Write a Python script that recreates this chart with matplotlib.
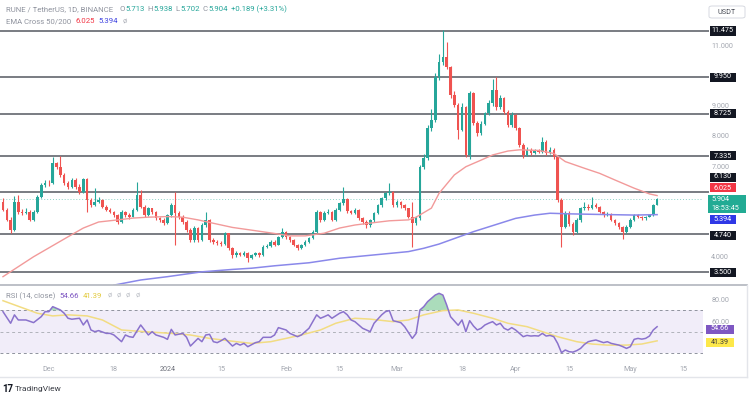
import numpy as np
import pandas as pd
import matplotlib
matplotlib.use("Agg")
import matplotlib.pyplot as plt
from matplotlib.patches import Rectangle, FancyBboxPatch
from matplotlib.lines import Line2D

plt.rcParams['font.family'] = ['Roboto', 'DejaVu Sans']

# ---------------- data ----------------
START = '2023-11-19'

opens = [
    5.80, 5.55, 5.22, 4.88, 5.82, 5.49, 5.44, 5.49, 5.22, 5.49,
    5.99, 6.38, 6.45, 6.43, 7.09, 6.98, 6.71, 6.43, 6.32, 6.54,
    6.32, 6.15, 6.56, 5.88, 5.71, 5.82, 5.88, 5.66, 5.55, 5.49,
    5.38, 5.16, 5.49, 5.38, 5.33, 5.55, 6.04, 5.66, 5.38, 5.60,
    5.49, 5.27, 5.22, 5.11, 5.38, 5.71, 5.45, 5.33, 5.16, 4.89,
    4.55, 4.94, 4.55, 5.05, 5.22, 4.55, 4.50, 4.45, 4.42, 4.77,
    4.28, 4.06, 4.12, 4.07, 4.12, 3.95, 4.06, 4.11, 4.06, 4.33,
    4.36, 4.50, 4.40, 4.66, 4.83, 4.66, 4.55, 4.40, 4.28, 4.39,
    4.50, 4.61, 4.83, 5.49, 5.22, 5.44, 5.49, 5.22, 5.55, 5.77,
    5.92, 5.50, 5.45, 5.55, 5.27, 5.16, 5.05, 5.20, 5.44, 5.71,
    5.93, 6.10, 6.15, 5.71, 5.80, 5.71, 5.60, 5.33, 5.11, 5.27,
    6.98, 7.26, 8.25, 8.53, 9.96, 10.46, 10.63, 10.29, 9.36, 9.03,
    8.20, 8.95, 7.37, 9.41, 8.42, 8.09, 8.40, 8.75, 9.08, 9.52,
    8.95, 9.25, 8.80, 8.36, 8.70, 8.25, 7.70, 7.37, 7.55, 7.45,
    7.52, 7.48, 7.80, 7.45, 7.55, 7.30, 5.88, 5.00, 5.44, 5.10,
    4.83, 5.22, 5.60, 5.66, 5.62, 5.72, 5.65, 5.49, 5.38, 5.42,
    5.22, 5.11, 4.99, 4.83, 4.99, 5.22, 5.38, 5.33, 5.27, 5.32,
    5.38, 5.713]

highs = [
    5.95, 5.62, 5.30, 6.00, 6.05, 5.58, 5.60, 5.55, 5.55, 6.05,
    6.45, 6.55, 6.55, 7.31, 7.15, 7.33, 6.78, 6.50, 6.60, 6.62,
    6.40, 6.62, 6.60, 5.95, 6.26, 5.98, 5.92, 5.70, 5.60, 5.52,
    5.42, 5.55, 5.52, 5.45, 5.62, 6.47, 6.20, 5.72, 5.66, 5.62,
    5.52, 5.32, 5.28, 5.42, 5.78, 6.15, 5.52, 5.38, 5.22, 4.95,
    5.02, 4.98, 5.12, 5.49, 5.25, 4.62, 4.55, 4.52, 4.82, 4.80,
    4.32, 4.18, 4.16, 4.18, 4.16, 4.10, 4.16, 4.15, 4.38, 4.42,
    4.55, 4.55, 4.70, 4.95, 4.86, 4.70, 4.58, 4.43, 4.43, 4.55,
    4.66, 4.88, 5.55, 5.52, 5.50, 5.58, 5.52, 5.60, 5.82, 6.30,
    5.95, 5.56, 5.60, 5.58, 5.30, 5.20, 5.25, 5.48, 5.75, 5.98,
    6.15, 6.43, 6.18, 5.88, 5.85, 5.75, 5.62, 5.80, 5.35, 7.05,
    7.40, 8.35, 8.90, 10.10, 10.70, 11.50, 11.10, 10.30, 9.50, 9.10,
    9.10, 9.00, 9.50, 9.45, 8.50, 8.50, 8.80, 9.20, 9.90, 9.95,
    9.35, 9.28, 8.85, 8.78, 8.72, 8.30, 7.75, 7.62, 7.60, 7.58,
    7.56, 7.95, 7.85, 7.62, 7.60, 7.35, 5.95, 5.50, 5.50, 5.15,
    5.28, 5.65, 5.80, 5.75, 5.99, 5.78, 5.68, 5.52, 5.48, 5.45,
    5.26, 5.15, 5.02, 5.05, 5.28, 5.42, 5.42, 5.36, 5.36, 5.42,
    5.75, 5.938]

lows = [
    5.50, 5.18, 4.80, 4.85, 5.40, 5.38, 5.40, 5.18, 5.18, 5.45,
    5.95, 6.32, 6.35, 6.40, 6.90, 6.65, 6.38, 6.25, 6.28, 6.25,
    6.08, 6.12, 5.49, 5.65, 5.68, 5.78, 5.60, 5.50, 5.44, 5.33,
    5.10, 5.12, 5.32, 5.26, 5.30, 5.50, 5.60, 5.33, 5.35, 5.42,
    5.22, 5.15, 5.05, 5.08, 5.33, 4.40, 5.25, 5.10, 4.82, 4.48,
    4.50, 4.48, 4.52, 5.00, 4.50, 4.42, 4.38, 4.35, 4.38, 4.22,
    3.95, 4.00, 4.02, 4.04, 3.84, 3.92, 4.02, 4.00, 4.03, 4.28,
    4.32, 4.35, 4.38, 4.62, 4.60, 4.50, 4.35, 4.22, 4.25, 4.36,
    4.45, 4.58, 4.80, 5.15, 5.18, 5.40, 5.18, 5.18, 5.50, 5.72,
    5.45, 5.40, 5.42, 5.22, 5.10, 4.95, 5.00, 5.15, 5.40, 5.65,
    5.88, 6.05, 5.65, 5.66, 5.62, 5.55, 5.28, 4.33, 5.05, 5.22,
    6.90, 7.20, 8.15, 8.45, 9.85, 10.35, 10.20, 9.25, 8.95, 7.90,
    8.15, 7.30, 7.25, 8.35, 8.00, 8.02, 8.35, 8.70, 9.00, 8.85,
    8.90, 8.72, 8.28, 8.30, 8.18, 7.62, 7.28, 7.32, 7.38, 7.40,
    7.42, 7.45, 7.38, 7.40, 7.22, 5.80, 4.33, 4.95, 5.02, 4.72,
    4.78, 5.15, 5.55, 5.55, 5.58, 5.60, 5.44, 5.32, 5.35, 5.18,
    5.05, 4.92, 4.60, 4.80, 4.95, 5.18, 5.28, 5.22, 5.22, 5.30,
    5.35, 5.702]

closes = [
    5.55, 5.22, 4.88, 5.82, 5.49, 5.44, 5.49, 5.22, 5.49, 5.99,
    6.38, 6.45, 6.43, 7.09, 6.98, 6.71, 6.43, 6.32, 6.54, 6.32,
    6.15, 6.56, 5.88, 5.71, 5.82, 5.88, 5.66, 5.55, 5.49, 5.38,
    5.16, 5.49, 5.38, 5.33, 5.55, 6.04, 5.66, 5.38, 5.60, 5.49,
    5.27, 5.22, 5.11, 5.38, 5.71, 5.45, 5.33, 5.16, 4.89, 4.55,
    4.94, 4.55, 5.05, 5.22, 4.55, 4.50, 4.45, 4.42, 4.77, 4.28,
    4.06, 4.12, 4.07, 4.12, 3.95, 4.06, 4.11, 4.06, 4.33, 4.36,
    4.50, 4.40, 4.66, 4.83, 4.66, 4.55, 4.40, 4.28, 4.39, 4.50,
    4.61, 4.83, 5.49, 5.22, 5.44, 5.49, 5.22, 5.55, 5.77, 5.92,
    5.50, 5.45, 5.55, 5.27, 5.16, 5.05, 5.20, 5.44, 5.71, 5.93,
    6.10, 6.15, 5.71, 5.80, 5.71, 5.60, 5.33, 5.11, 5.27, 6.98,
    7.26, 8.25, 8.53, 9.96, 10.46, 10.63, 10.29, 9.36, 9.03, 8.20,
    8.95, 7.37, 9.41, 8.42, 8.09, 8.40, 8.75, 9.08, 9.52, 8.95,
    9.25, 8.80, 8.36, 8.70, 8.25, 7.70, 7.37, 7.55, 7.45, 7.52,
    7.48, 7.80, 7.45, 7.55, 7.30, 5.88, 5.00, 5.44, 5.10, 4.83,
    5.22, 5.60, 5.66, 5.62, 5.72, 5.65, 5.49, 5.38, 5.42, 5.22,
    5.11, 4.99, 4.83, 4.99, 5.22, 5.38, 5.33, 5.27, 5.32, 5.38,
    5.713, 5.904]

# EMA 50 / EMA 200 (day offset from START, value)
ema50_days = [0, 8, 17, 21, 25, 30, 34, 38, 43, 47, 51, 56, 60, 65, 71, 75, 79, 84,
              88, 92, 97, 101, 106, 108, 112, 114, 118, 121, 125, 128, 132, 135,
              140, 144, 147, 152, 156, 160, 165, 169, 171]
ema50_vals = [3.34, 4.00, 4.66, 4.95, 5.15, 5.22, 5.28, 5.31, 5.33, 5.31, 5.22, 5.08,
              4.97, 4.88, 4.77, 4.69, 4.69, 4.78, 4.95, 5.05, 5.13, 5.19, 5.22, 5.31,
              5.61, 6.10, 6.71, 6.98, 7.20, 7.37, 7.50, 7.54, 7.52, 7.42, 7.15, 6.93,
              6.76, 6.54, 6.27, 6.08, 6.025]
ema200_days = [29, 36, 43, 52, 60, 65, 71, 80, 88, 97, 106, 110, 114, 123, 130, 134,
               139, 143, 148, 156, 165, 171]
ema200_vals = [3.06, 3.23, 3.34, 3.50, 3.58, 3.62, 3.70, 3.80, 3.95, 4.06, 4.17, 4.28,
               4.42, 4.83, 5.11, 5.27, 5.38, 5.44, 5.42, 5.40, 5.38, 5.394]

# RSI(14) and its moving average
rsi_days = [0, 2, 3, 4, 6, 8, 10, 11, 12, 13, 15, 16, 17, 18, 20, 21, 22, 23, 24, 25,
            27, 28, 29, 31, 32, 33, 34, 36, 37, 38, 39, 40, 42, 43, 44, 45, 47, 48, 49,
            51, 52, 53, 54, 55, 56, 57, 58, 60, 61, 62, 63, 64, 66, 67, 68, 70, 71, 72,
            74, 75, 77, 78, 79, 80, 81, 82, 83, 84, 85, 86, 88, 89, 90, 91, 92, 94, 95,
            96, 97, 99, 100, 101, 102, 103, 104, 105, 107, 108, 109, 110, 111, 112, 113,
            114, 115, 116, 117, 118, 119, 120, 121, 122, 123, 124, 125, 126, 127, 128,
            129, 130, 131, 132, 133, 134, 135, 136, 137, 138, 139, 140, 141, 142, 143,
            144, 145, 146, 147, 148, 149, 150, 151, 152, 153, 154, 155, 156, 157, 158,
            159, 160, 161, 162, 163, 164, 165, 166, 167, 168, 169, 170, 171]
rsi_vals = [68.8, 57.9, 65.8, 61.0, 61.0, 58.5, 64.1, 68.8, 68.8, 73.5, 70.4, 67.3, 62.6,
            61.7, 62.6, 56.3, 61.0, 51.6, 50.0, 51.0, 48.4, 48.4, 46.9, 40.6, 46.9, 45.3,
            44.7, 56.3, 51.6, 46.9, 50.0, 46.9, 44.7, 42.8, 52.2, 46.9, 48.4, 44.7, 36.5,
            43.7, 40.6, 46.9, 47.5, 40.6, 39.7, 41.5, 43.7, 36.5, 39.0, 37.4, 39.0, 35.9,
            39.7, 40.6, 44.7, 44.7, 46.9, 53.8, 51.6, 48.4, 45.3, 46.9, 50.0, 53.2, 59.4,
            65.8, 62.6, 64.1, 65.8, 62.6, 67.3, 68.8, 65.8, 61.0, 59.4, 53.2, 51.6, 50.0,
            57.9, 65.8, 68.8, 69.8, 60.3, 59.4, 58.5, 54.7, 43.7, 48.4, 70.4, 73.5, 78.2,
            81.3, 84.4, 86.0, 84.4, 75.0, 64.1, 60.0, 56.0, 61.0, 50.0, 60.3, 55.3, 51.6,
            53.2, 56.3, 58.0, 59.4, 56.3, 57.9, 53.2, 51.5, 53.8, 51.6, 48.4, 45.3, 46.5,
            45.9, 46.2, 45.9, 48.4, 45.9, 46.5, 45.3, 39.0, 30.3, 32.8, 31.2, 30.8, 32.2,
            34.3, 38.0, 40.6, 41.5, 42.2, 41.0, 39.7, 40.6, 39.0, 38.2, 37.4, 36.0, 34.3,
            35.9, 42.8, 43.7, 43.0, 43.7, 45.9, 51.6, 54.66]
rsima_days = [0, 9, 13, 17, 22, 26, 31, 37, 44, 49, 54, 61, 65, 70, 74, 78, 83, 87, 92,
              96, 102, 106, 110, 115, 119, 123, 128, 132, 137, 141, 145, 150, 154, 158,
              163, 167, 171]
rsima_vals = [79.1, 67.3, 64.8, 65.8, 64.8, 61.0, 51.6, 50.0, 48.4, 46.9, 43.7, 40.6,
              39.0, 40.6, 43.7, 46.9, 51.6, 57.9, 62.6, 61.8, 59.4, 61.0, 65.8, 69.8,
              70.4, 67.3, 62.6, 57.9, 54.7, 50.0, 45.3, 40.6, 38.4, 37.4, 37.4, 38.4, 41.39]

levels = [11.475, 9.950, 8.725, 7.335, 6.130, 4.740, 3.500]
level_labels = ['11.475', '9.950', '8.725', '7.335', '6.130', '4.740', '3.500']

tick_dates = ['2023-12-01', '2023-12-18', '2024-01-01', '2024-01-15', '2024-02-01',
              '2024-02-15', '2024-03-01', '2024-03-18', '2024-04-01', '2024-04-15',
              '2024-05-01', '2024-05-15']
tick_labels = ['Dec', '18', '2024', '15', 'Feb', '15', 'Mar', '18', 'Apr', '15', 'May', '15']
price_ticks = [4, 7, 8, 9, 11]
rsi_ticks = [60, 80]

# ---------------- figure ----------------
W, H = 750, 395
fig = plt.figure(figsize=(W / 100, H / 100), dpi=100)
fig.patch.set_facecolor('white')

GREEN = '#26a69a'
RED = '#ef5350'
GRAY = '#8f939e'
XL = (-0.78, 183.0)

ax = fig.add_axes([0, 1 - 285 / H, 703 / W, 285 / H])
ax.set_xlim(*XL)
ax.set_ylim(3.064, 12.501)
for s in ax.spines.values():
    s.set_visible(False)
ax.set_xticks([])
ax.yaxis.tick_right()
ax.set_yticks(price_ticks)
ax.set_yticklabels([f'{v:.3f}' for v in price_ticks])
ax.tick_params(axis='y', length=0, pad=6, labelsize=5.2, labelcolor='#a3a7b0')

x = np.arange(len(closes))
o = np.array(opens); c = np.array(closes); hi = np.array(highs); lo = np.array(lows)
cols = np.where(c >= o, GREEN, RED)

# level lines
ax.hlines(levels, XL[0], 184.6, colors='#555861', lw=1.1, clip_on=False, zorder=1)
# last price dotted
ax.axhline(closes[-1], color='#8fd3c8', lw=0.7, ls=(0, (1, 2)), zorder=1)

ax.vlines(x, lo, hi, colors=cols, lw=0.8, zorder=3)
body_h = np.maximum(np.abs(c - o), 0.025)
ax.bar(x, body_h, bottom=np.minimum(o, c), width=0.68, color=cols, zorder=3, linewidth=0)

ax.plot(ema50_days, ema50_vals, color='#f29a9a', lw=1.0, zorder=4)
ax.plot(ema200_days, ema200_vals, color='#8a88ea', lw=1.1, zorder=4)

# RSI pane
axr = fig.add_axes([0, 1 - 360 / H, 703 / W, 74 / H])
axr.set_xlim(*XL)
axr.set_ylim(23.4, 92.9)
for s in axr.spines.values():
    s.set_visible(False)
axr.axhspan(30, 70, color='#f1edf9', lw=0, zorder=0)
for lvl, colr in [(70, '#8f939e'), (50, '#b0b3bb'), (30, '#8f939e')]:
    axr.axhline(lvl, color=colr, lw=0.7, ls=(0, (3, 3)), zorder=1)
rd = np.array(rsi_days, dtype=float); rv = np.array(rsi_vals)
axr.fill_between(rd, rv, 70, where=rv > 70, interpolate=True, color='#8fd1a4', alpha=0.75, lw=0, zorder=2)
axr.plot(rsima_days, rsima_vals, color='#f2dc82', lw=1.1, zorder=3)
axr.plot(rsi_days, rsi_vals, color='#8a72cc', lw=1.1, zorder=4)
axr.yaxis.tick_right()
axr.set_yticks(rsi_ticks)
axr.set_yticklabels([f'{v:.2f}' for v in rsi_ticks])
axr.tick_params(axis='y', length=0, pad=6, labelsize=5.2, labelcolor='#a3a7b0')

start = pd.Timestamp(START)
tpos = [(pd.Timestamp(d) - start).days for d in tick_dates]
axr.set_xticks(tpos)
axr.set_xticklabels(tick_labels)
axr.tick_params(axis='x', length=0, pad=4, labelsize=5.2, labelcolor='#a3a7b0')
for lbl in axr.get_xticklabels():
    if lbl.get_text() == '2024':
        lbl.set_color('#6f727c')

# frame lines
fig.add_artist(Line2D([0, 747 / W], [1 - 285 / H] * 2, color='#b8bbc3', lw=1.3))
fig.add_artist(Line2D([0, 747 / W], [1 - 377 / H] * 2, color='#e3e5ea', lw=1.0))
fig.add_artist(Line2D([747 / W] * 2, [1 - 285 / H, 1 - 377 / H], color='#e3e5ea', lw=1.0))


def box(yc, text, fc, tc, x0=710, x1=736, h=9, fs=5.2):
    fig.add_artist(Rectangle((x0 / W, 1 - (yc + h / 2) / H), (x1 - x0) / W, h / H,
                             transform=fig.transFigure, facecolor=fc, edgecolor='none', zorder=5))
    fig.text((x0 + x1) / 2 / W, 1 - yc / H, text, ha='center', va='center', color=tc,
             fontsize=fs, zorder=6)


level_y = [31, 77, 113.5, 156, 177, 235.5, 272.5]
for yc, t in zip(level_y, level_labels):
    box(yc, t, '#131722', 'white')
box(188, '6.025', '#f23645', 'white')
box(219.5, '5.394', '#2f38e6', 'white')
# last price (two lines)
fig.add_artist(Rectangle((708 / W, 1 - 213 / H), 38 / W, 18 / H, transform=fig.transFigure,
                         facecolor='#22ab94', edgecolor='none', zorder=5))
fig.text(711 / W, 1 - 199.5 / H, '5.904', ha='left', va='center', color='white', fontsize=5.2, zorder=6)
fig.text(711 / W, 1 - 208.5 / H, '18:53:45', ha='left', va='center', color='white', fontsize=5.2, zorder=6)
# RSI boxes
box(329, '54.66', '#7e57c2', 'white', x0=706, x1=734)
box(342, '41.39', '#fde84a', '#3a3a3a', x0=706, x1=734)
# USDT
fig.add_artist(FancyBboxPatch((709 / W, 1 - 18 / H), 36 / W, 12 / H,
                              boxstyle='round,pad=0,rounding_size=0.004', transform=fig.transFigure,
                              facecolor='white', edgecolor='#d1d4dc', lw=0.6, zorder=5))
fig.text(727 / W, 1 - 12 / H, 'USDT', ha='center', va='center', color='#4a4d57', fontsize=5.2, zorder=6)

# headers
renderer = fig.canvas.get_renderer()


def seq_text(x0, y, parts, fs=5.6):
    xx = x0
    for s, col, gap in parts:
        xx += gap
        t = fig.text(xx / W, 1 - y / H, s, color=col, fontsize=fs, ha='left', va='center', zorder=6)
        bb = t.get_window_extent(renderer=renderer)
        xx = bb.x1


TEAL = '#26a69a'
seq_text(6, 9, [('RUNE / TetherUS, 1D, BINANCE', GRAY, 0), ('O', GRAY, 6), ('5.713', TEAL, 0.5),
                ('H', GRAY, 3), ('5.938', TEAL, 0.5), ('L', GRAY, 3), ('5.702', TEAL, 0.5),
                ('C', GRAY, 3), ('5.904', TEAL, 0.5), ('+0.189 (+3.31%)', TEAL, 3)])
seq_text(6, 21, [('EMA Cross 50/200', GRAY, 0), ('6.025', '#f23645', 4), ('5.394', '#3f43e0', 4),
                 ('ø', '#b0b3bb', 4)])
seq_text(6, 296, [('RSI (14, close)', GRAY, 0), ('54.66', '#7e57c2', 4), ('41.39', '#e2c93a', 4),
                  ('ø', '#c0c3ca', 5), ('ø', '#c0c3ca', 5), ('ø', '#c0c3ca', 5), ('ø', '#c0c3ca', 5)])

fig.text(2 / W, 1 - 389 / H, '17', fontsize=7, fontweight='bold', color='#131722', va='center')
fig.text(15 / W, 1 - 389 / H, 'TradingView', fontsize=6, color='#3a3d45', va='center')

fig.savefig('out.png', dpi=100, facecolor='white')
